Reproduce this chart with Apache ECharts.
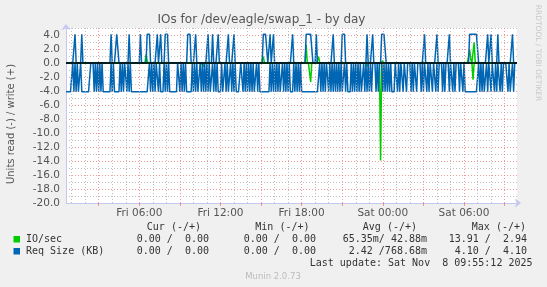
<!DOCTYPE html>
<html><head><meta charset="utf-8">
<script src="https://cdn.jsdelivr.net/npm/echarts@6/dist/echarts.min.js"></script>
<style>html,body{margin:0;padding:0;background:#f0f0f0;}#c{width:547px;height:287px;}</style>
</head><body><div id="c"></div><script>
// time axis: minutes since Fri 00:00, one sample every 5 minutes
const startMinute = 35;
const stepMinutes = 5;
const xLabelMinutes = [360, 720, 1080, 1440, 1800];
const xLabelTexts = ['Fri 06:00', 'Fri 12:00', 'Fri 18:00', 'Sat 00:00', 'Sat 06:00'];
const xTickMinutes = [180, 360, 540, 720, 900, 1080, 1260, 1440, 1620, 1800, 1980];

// IO/sec write (+)
const ioWrite = [
0,0,0,0,0,0,0,0,0,0,0,0,0,0,0,0,0,0,0,0,
0,0,0,0,0,0,0,0,0,0,0,0,0,0,0,0,0,0,0,0,
0,0,0,0,0,0,0,0,0,0,0,0,0,0,0,0,0,0,0,0,
0,0,0,0,0,0,0,0,0,0,0,1.2,0.3,0,0,0,0,0,0,0,
0,0,0,0,0,0,0,0,0,0,0,0,0,0,0,0,0,0,0,0,
0,0,0,0,0,0,0,0,0,0,0,0,0,0,0,0,0,0,0,0,
0,0,0,0,0,0,0,0,0,0,0,0,0,0,0,0,0,0,0,0,
0,0,0,0,0,0,0,0,0,0,0,0,0,0,0,0,0,0,0,0,
0,0,0,0,0,0,0,0,0,0,0,0,0,0,0,0.9,0,0,0,0,
0,0,0,0,0,0,0,0,0,0,0,0,0,0,0,0,0,0,0,0,
0,0,0,0,0,0,0,0,0,0,0,0,0,2.6,0,0,0,0,0,0,
0,0,0,0,0.9,0,0,0,0,0,0,0,0,0,0,0,0,0,0,0,
0,0,0,0,0,0,0,0,0,0,0,0,0,0,0,0,0,0,0,0,
0,0,0,0,0,0,0,0,0,0,0,0,0,0,0,0,0,0,0,0,
0,0.3,0,0,0,0,0,0,0,0,0,0,0,0,0,0,0,0,0,0,
0,0,0,0,0,0,0,0,0,0,0,0,0,0,0,0,0,0,0,0,
0,0,0,0,0,0,0,0,0,0,0,0,0,0,0,0,0,0,0,0,
0,0,0,0,0,0,0,0,0,0,0,0,0,0,0,0,0,0,1.9,0.5,
0,0,2.94,0,0,0,0,0,0,0,0,0,0,0,0,0,0,0,0,0,
0,0,0,0,0,0,0,0,0,0,0,0,0,0,0,0,0,0,0,0,
0];
// IO/sec read (-), stored positive
const ioRead = [
0,0,0,0,0,0,0,0,0,0,0,0,0,0,0,0,0,0,0,0,
0,0,0,0,0,0,0,0,0,0,0,0,0,0,0,0,0,0,0,0,
0,0,0,0,0,0,0,0,0,0,0,0,0,0,0,0,0,0,0,0,
0,0,0,0,0,0,0,0,0,0,0,0,0,0,0,0,0,0,0,0,
0,0,0,0,0,0,0,0,0,0,0,0,0,0,0,0,0,0,0,0,
0,0,0,0,0,0,0,0,0,0,0,0,0,0,0,0,0,0,0,0,
0,0,0.5,0,0,0,0,0,0,0,0,0,0,0,0,0,0,0,0,0,
0,0,0,0,0,0,0,0,0,0,0,0,0,0,0,0,0,0,0,0,
0,0,0,0,0,0,0,0,0,0,0,0,0,0,0,0,0,0,0,0,
0,0,0,0,0,0,0,0,0,0,0,0,0,0,0,0,0,0,0,0,
0,0,0,0,0,0,0,0,0,0,0,0,0,0,0,0,0,2.7,0,0,
0,0,0,0,0,0,0,0,0,0,0,0,0,0,0,0,0,0,0,0,
0,0,0,0,0,0,0,0,0,0,0,0,0,0,0,0,0,0,0,0,
0,0,0,0,0,0,0,0.5,0,0,0,0,0,0,0,0,0,0,0,13.91,
0,0,0,0,0,0,0,0,0,0,0,0,0,0,0,0,0,0,0,0,
0,0,0,0,0,0,0,0,0,0,0,0,0,0,0,0,0,0,0,0,
0,0,0,0,0,0,0,0,0,0,0,0,0,0,0,0,0,0,0,0,
0,0,0,0,0,0,0,0,0,0,0,0,0,0,0,0,0,0,0,0,
0,2.4,0,0,0,0,0,0,0,0,0,0,0,0,0,0,0,0,0,0,
0,0,0,0,0,0,0,0,0,0,0,0,0,0,0,0,0,0,0,0,
0];
// Req Size (KB) write (+)
const sizeWrite = [
0,0,0,0,0,0,0,0,4.1,0,0,0,0,0,4.1,0,0,0,0,0,
0,0,0,0,0,0,0,0,0,0,0,0,0,0,0,0,0,0,0,0,
4.1,0,0,0,0,4.1,4.1,0,0,0,0,0,0,0,0,0,4.1,0,0,0,
0,0,0,0,0,0,4.1,0,0,0,0,0,4.1,4.1,4.1,0,0,0,0,0,
0,4.1,0,0,4.1,0,0,0,4.1,4.1,4.1,0,0,0,0,0,0,0,0,0,
0,0,0,0,0,0,0,0,4.1,4.1,4.1,0,0,0,0,4.1,0,0,0,0,
0,0,0,0,0,0,4.1,0,0,0,4.1,0,0,0,0,4.1,0,0,0,0,
0,0,0,0,4.1,0,0,0,0,4.1,0,0,0,0,0,0,0,0,0,0,
0,0,0,0,0,0,0,0,0,0,0,0,0,0,0,4.1,4.1,4.1,4.1,0,
0,4.1,0,0,4.1,0,0,0,0,0,0,0,0,0,0,0,0,0,0,0,
0,4.1,0,0,0,0,0,0,0,0,0,0,0,4.1,4.1,4.1,4.1,4.1,4.1,0,
0,0,4.1,0,0,0,0,0,0,0,0,0,0,0,0,0,0,4.1,0,0,
0,0,0,0,0,4.1,4.1,4.1,0,0,0,0,0,0,0,0,0,0,0,0,
0,0,0,0,0,0,0,4.1,0,0,0,0,4.1,0,0,0,0,0,0,0,
4.1,4.1,4.1,4.1,0,0,0,0,0,0,0,0,0,0,0,0,0,0,0,0,
0,0,0,0,0,0,0,0,0,0,0,0,0,0,0,0,0,0,4.1,0,
0,0,0,0,0,0,0,0,0,4.1,0,0,0,0,0,0,0,0,0,0,
4.1,0,0,0,0,0,0,0,0,0,0,0,0,0,0,0,0,0,4.1,4.1,
4.1,4.1,4.1,4.1,4.1,4.1,0,0,0,0,0,0,0,0,4.1,0,0,4.1,0,0,
0,0,0,4.1,0,0,0,0,0,0,0,0,0,0,0,0,4.1,0,0,0,
0];
// Req Size (KB) read (-), stored positive
const sizeRead = [
4.1,4.1,4.1,4.1,4.1,4.1,0,4.1,0,4.1,0,4.1,4.1,0,4.1,4.1,4.1,4.1,4.1,4.1,
4.1,4.1,0,0,0,4.1,0,4.1,0,4.1,0,4.1,0,4.1,4.1,4.1,4.1,4.1,4.1,4.1,
0,4.1,0,4.1,4.1,4.1,4.1,4.1,0,4.1,0,4.1,0,0,4.1,0,4.1,0,4.1,4.1,
4.1,4.1,4.1,4.1,4.1,4.1,4.1,4.1,4.1,4.1,4.1,4.1,4.1,4.1,0,4.1,0,4.1,0,4.1,
0,0,4.1,0,4.1,4.1,4.1,0,4.1,0,4.1,0,4.1,4.1,4.1,4.1,4.1,4.1,4.1,0,
0,4.1,0,4.1,0,4.1,0,4.1,4.1,4.1,4.1,4.1,0,4.1,0,4.1,0,4.1,4.1,0,
4.1,0,4.1,0,4.1,0,4.1,0,4.1,4.1,0,4.1,0,4.1,0,4.1,4.1,4.1,0,4.1,
4.1,0,4.1,0,4.1,4.1,0,4.1,0,4.1,0,4.1,4.1,4.1,4.1,0,0,4.1,0,4.1,
0,4.1,0,4.1,0,4.1,0,4.1,4.1,0,4.1,0,4.1,4.1,4.1,4.1,4.1,4.1,4.1,4.1,
4.1,0,4.1,0,4.1,0,4.1,0,4.1,0,4.1,4.1,0,4.1,0,4.1,0,4.1,0,4.1,
4.1,4.1,0,4.1,0,4.1,0,4.1,0,4.1,4.1,4.1,4.1,4.1,4.1,4.1,4.1,4.1,4.1,4.1,
4.1,4.1,4.1,4.1,4.1,0,4.1,0,4.1,0,4.1,0,0,4.1,0,4.1,0,4.1,0,4.1,
0,4.1,0,4.1,0,4.1,4.1,0,4.1,0,4.1,4.1,4.1,0,4.1,0,4.1,0,4.1,0,
4.1,0,4.1,4.1,0,4.1,0,4.1,0,4.1,0,4.1,0,0,0,4.1,0,4.1,0,0,
0,4.1,0,4.1,0,4.1,0,4.1,0,4.1,4.1,4.1,0,0,4.1,0,4.1,0,0,4.1,
0,0,4.1,0,0,0,4.1,0,4.1,0,0,4.1,0,0,0,4.1,0,4.1,0,0,
4.1,0,4.1,0,0,4.1,0,0,4.1,0,4.1,0,0,0,4.1,0,4.1,0,0,0,
4.1,0,0,4.1,0,4.1,0,0,0,4.1,0,0,4.1,0,4.1,4.1,4.1,4.1,4.1,4.1,
4.1,4.1,4.1,4.1,4.1,4.1,0,4.1,0,4.1,0,4.1,4.1,0,4.1,0,0,4.1,0,0,
4.1,0,4.1,0,0,4.1,0,4.1,0,0,0,0,4.1,0,4.1,4.1,0,4.1,0,0,
0];

// legend table
const legendNames = ['IO/sec', 'Req Size (KB)'];
const legendColors = ['#00cc00', '#0066b3'];
const legendHeaders = ['Cur (-/+)', 'Min (-/+)', 'Avg (-/+)', 'Max (-/+)'];
const legendCur = ['0.00 /  0.00', '0.00 /  0.00'];
const legendMin = ['0.00 /  0.00', '0.00 /  0.00'];
const legendAvg = ['65.35m/ 42.88m', '2.42 /768.68m'];
const legendMax = ['13.91 /  2.94', '4.10 /  4.10'];
const titleText = 'IOs for /dev/eagle/swap_1 - by day';
const yAxisTitle = 'Units read (-) / write (+)';
const lastUpdate = 'Last update: Sat Nov  8 09:55:12 2025';
const footer = 'Munin 2.0.73';
const sideText = 'RRDTOOL / TOBI OETIKER';

const RED = 'rgba(235,120,120,0.75)';
const GRAY = 'rgba(170,170,170,0.75)';
const AXISC = '#c4c8ee';
const LBL = '#555555';

function toPairs(vals, sign) {
  return vals.map((v, i) => [startMinute + i * stepMinutes, sign * v]);
}
const endMinute = startMinute + (sizeRead.length - 1) * stepMinutes;

const vGrid = [];
for (let m = 60; m < endMinute; m += 60) {
  vGrid.push({ xAxis: m, lineStyle: { color: (m % 180 === 0) ? RED : GRAY, type: [1, 2], width: 1 } });
}

const chart = echarts.init(document.getElementById('c'), null, { renderer: 'canvas' });

const colX = [209, 316, 427, 527];
const hdrX = [201, 309.5, 417, 526];
const rowY = [239.5, 251.5];
const graphics = [];
graphics.push({ type: 'text', x: 261.5, y: 20, style: { text: titleText, font: '12px "DejaVu Sans"', fill: '#555', align: 'center', verticalAlign: 'middle' } });
graphics.push({ type: 'text', x: 11, y: 124, rotation: Math.PI / 2, style: { text: yAxisTitle, font: '10px "DejaVu Sans"', fill: '#555', align: 'center', verticalAlign: 'middle' } });
graphics.push({ type: 'text', x: 538, y: 53, rotation: -Math.PI / 2, style: { text: sideText, font: '7.5px "DejaVu Sans"', fill: '#c8c8c8', align: 'center', verticalAlign: 'middle' } });
legendHeaders.forEach((h, k) => graphics.push({ type: 'text', x: hdrX[k], y: 227.3, style: { text: h, font: '10px "DejaVu Sans Mono"', fill: '#333', align: 'right', verticalAlign: 'middle' } }));
legendNames.forEach((n, r) => {
  graphics.push({ type: 'rect', shape: { x: 13.5, y: rowY[r] - 3.5, width: 6.5, height: 6.5 }, style: { fill: legendColors[r] } });
  graphics.push({ type: 'text', x: 26, y: rowY[r], style: { text: n, font: '10px "DejaVu Sans Mono"', fill: '#333', align: 'left', verticalAlign: 'middle' } });
  [legendCur, legendMin, legendAvg, legendMax].forEach((col, k) => {
    graphics.push({ type: 'text', x: colX[k], y: rowY[r], style: { text: col[r], font: '10px "DejaVu Sans Mono"', fill: '#333', align: 'right', verticalAlign: 'middle' } });
  });
});
graphics.push({ type: 'text', x: 532.5, y: 263.5, style: { text: lastUpdate, font: '10px "DejaVu Sans Mono"', fill: '#333', align: 'right', verticalAlign: 'middle' } });
graphics.push({ type: 'text', x: 273, y: 276.5, style: { text: footer, font: '8.5px "DejaVu Sans"', fill: '#bbbbbb', align: 'center', verticalAlign: 'middle' } });

chart.setOption({
  animation: false,
  backgroundColor: '#f0f0f0',
  grid: { left: 66, right: 30, top: 28, bottom: 84, show: true, backgroundColor: '#ffffff', borderWidth: 0 },
  xAxis: {
    type: 'value', min: startMinute, max: endMinute,
    axisLine: { onZero: false, lineStyle: { color: AXISC, width: 1 }, symbol: ['none', 'arrow'], symbolSize: [7, 6], symbolOffset: [0, 4] },
    axisTick: { show: true, customValues: xTickMinutes, length: 3, lineStyle: { color: RED } },
    axisLabel: { customValues: xLabelMinutes, formatter: v => xLabelTexts[xLabelMinutes.indexOf(v)], fontFamily: 'DejaVu Sans', fontSize: 10.5, color: LBL, margin: 5 },
    splitLine: { show: false }
  },
  yAxis: {
    type: 'value', min: -20, max: 5, interval: 1,
    axisLine: { show: true, onZero: false, lineStyle: { color: AXISC, width: 1 }, symbol: ['none', 'arrow'], symbolSize: [7, 6], symbolOffset: [0, 4] },
    axisTick: { show: false },
    axisLabel: { formatter: v => (v % 2 === 0 ? v.toFixed(1) : ''), fontFamily: 'DejaVu Sans', fontSize: 10.5, color: LBL, margin: 6 },
    splitLine: { show: true, lineStyle: { color: [RED, GRAY], type: [1, 2], width: 1 } }
  },
  graphic: graphics,
  series: [
    { type: 'line', data: [], z: 1, silent: true,
      markLine: { silent: true, symbol: 'none', label: { show: false }, animation: false, data: vGrid } },
    { name: 'IO/sec read', type: 'line', data: toPairs(ioRead, -1), showSymbol: false, symbol: 'none', lineStyle: { color: '#00cc00', width: 1.5 }, z: 3, silent: true },
    { name: 'IO/sec write', type: 'line', data: toPairs(ioWrite, 1), showSymbol: false, symbol: 'none', lineStyle: { color: '#00cc00', width: 1.5 }, z: 3, silent: true },
    { name: 'Req Size read', type: 'line', data: toPairs(sizeRead, -1), showSymbol: false, symbol: 'none', lineStyle: { color: '#0066b3', width: 1.5 }, z: 4, silent: true },
    { name: 'Req Size write', type: 'line', data: toPairs(sizeWrite, 1), showSymbol: false, symbol: 'none', lineStyle: { color: '#0066b3', width: 1.5 }, z: 4, silent: true,
      markLine: { silent: true, symbol: 'none', label: { show: false }, animation: false, data: [{ yAxis: 0, lineStyle: { color: '#000000', width: 1.5, type: 'solid' } }] } }
  ]
});
</script></body></html>
